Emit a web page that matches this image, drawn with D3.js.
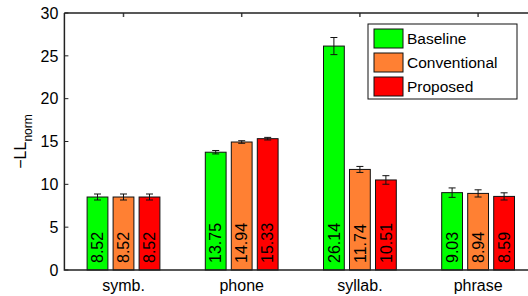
<!DOCTYPE html>
<html>
<head>
<meta charset="utf-8">
<script src="https://cdn.jsdelivr.net/npm/d3@7"></script>
<style>
  body { margin: 0; background: #fff; }
  text { font-family: "Liberation Sans", Arial, Helvetica, sans-serif; }
</style>
</head>
<body>
<div id="container"></div>
<script>
const categories = ['symb.', 'phone', 'syllab.', 'phrase'];
const series = ['Baseline', 'Conventional', 'Proposed'];
const colors = ['rgb(0, 255, 0)', 'rgb(255, 128, 51)', 'rgb(255, 0, 0)'];
const values = [
  [8.52, 13.75, 26.14, 9.03],
  [8.52, 14.94, 11.74, 8.94],
  [8.52, 15.33, 10.51, 8.59]
];
const errors = [
  [0.35, 0.2, 1.0, 0.55],
  [0.35, 0.15, 0.35, 0.42],
  [0.35, 0.15, 0.5, 0.42]
];
const yTicks = [0, 5, 10, 15, 20, 25, 30];

const width = 528, height = 296;
const plotLeft = 64.4, plotTop = 13, plotBottom = 270, plotRight = 537.2;

const svg = d3.select('#container').append('svg').attr('width', width).attr('height', height);

const x = d3.scaleBand().domain(categories).range([plotLeft, plotRight]);
const xs = d3.scaleBand().domain(series).range([-39, 39]).paddingInner(0.2).paddingOuter(0.1);
const y = d3.scaleLinear().domain([0, 30]).range([plotBottom, plotTop]);

// y ticks (inward) + labels
const yAxis = svg.append('g');
yAxis.selectAll('line').data(yTicks).enter().append('line')
  .attr('x1', plotLeft).attr('x2', plotLeft + 4)
  .attr('y1', d => y(d)).attr('y2', d => y(d))
  .style('stroke', '#222').style('stroke-width', 1);
yAxis.selectAll('text').data(yTicks).enter().append('text')
  .attr('x', plotLeft - 6).attr('y', d => y(d)).attr('dy', '0.36em')
  .attr('text-anchor', 'end').style('font-size', '16px')
  .text(d => d);

// top ticks (inward)
svg.append('g').selectAll('line').data(categories).enter().append('line')
  .attr('x1', d => x(d) + x.bandwidth() / 2).attr('x2', d => x(d) + x.bandwidth() / 2)
  .attr('y1', plotTop).attr('y2', plotTop + 4)
  .style('stroke', '#444').style('stroke-width', 1.5);

// bars
const data = [];
categories.forEach((c, ci) => series.forEach((s, si) => {
  data.push({c, s, si, v: values[si][ci], e: errors[si][ci]});
}));

const bar = svg.selectAll('g.bar').data(data).enter().append('g')
  .attr('class', 'bar')
  .attr('transform', d => `translate(${x(d.c) + x.bandwidth() / 2 + xs(d.s)}, 0)`);

bar.append('rect')
  .attr('x', 0).attr('y', d => y(d.v))
  .attr('width', xs.bandwidth()).attr('height', d => y(0) - y(d.v))
  .attr('fill', d => colors[d.si])
  .style('stroke', '#111').style('stroke-width', 1);

// error bars
const cx = xs.bandwidth() / 2;
bar.append('line')
  .attr('x1', cx).attr('x2', cx)
  .attr('y1', d => y(d.v + d.e)).attr('y2', d => y(d.v - d.e))
  .style('stroke', '#111').style('stroke-width', 1);
bar.append('line')
  .attr('x1', cx - 3.5).attr('x2', cx + 3.5)
  .attr('y1', d => y(d.v + d.e)).attr('y2', d => y(d.v + d.e))
  .style('stroke', '#111').style('stroke-width', 1);
bar.append('line')
  .attr('x1', cx - 3.5).attr('x2', cx + 3.5)
  .attr('y1', d => y(d.v - d.e)).attr('y2', d => y(d.v - d.e))
  .style('stroke', '#111').style('stroke-width', 1);

// value labels
bar.append('text')
  .attr('transform', `translate(${cx}, ${plotBottom - 7}) rotate(-90)`)
  .attr('dy', '0.36em')
  .style('font-size', '16px')
  .text(d => d.v.toFixed(2));

// axis frame
svg.append('path')
  .attr('d', `M${plotLeft},${plotTop}H${plotRight}M${plotLeft},${plotTop}V${plotBottom}H${plotRight}`)
  .attr('fill', 'none')
  .style('stroke', '#222').style('stroke-width', 1.5);

// category labels
svg.append('g').selectAll('text').data(categories).enter().append('text')
  .attr('x', d => x(d) + x.bandwidth() / 2).attr('y', 291)
  .attr('text-anchor', 'middle').style('font-size', '16px')
  .text(d => d);

// y label
const yl = svg.append('text')
  .attr('transform', `translate(26, ${(plotTop + plotBottom) / 2}) rotate(-90)`)
  .attr('text-anchor', 'middle').style('font-size', '16px');
yl.append('tspan').text('\u2212LL');
yl.append('tspan').attr('dy', 6).style('font-size', '12px').text('norm');

// legend
const lg = svg.append('g').attr('transform', 'translate(368, 24)');
lg.append('rect').attr('width', 149).attr('height', 75)
  .attr('fill', '#fff').style('stroke', '#111').style('stroke-width', 1);
const item = lg.selectAll('g').data(series).enter().append('g')
  .attr('transform', (d, i) => `translate(6, ${5 + i * 24})`);
item.append('rect').attr('width', 29).attr('height', 19)
  .attr('fill', (d, i) => colors[i])
  .style('stroke', '#111').style('stroke-width', 1);
item.append('text').attr('x', 33).attr('y', 9.5).attr('dy', '0.36em')
  .style('font-size', '15.5px').text(d => d);
</script>
</body>
</html>
